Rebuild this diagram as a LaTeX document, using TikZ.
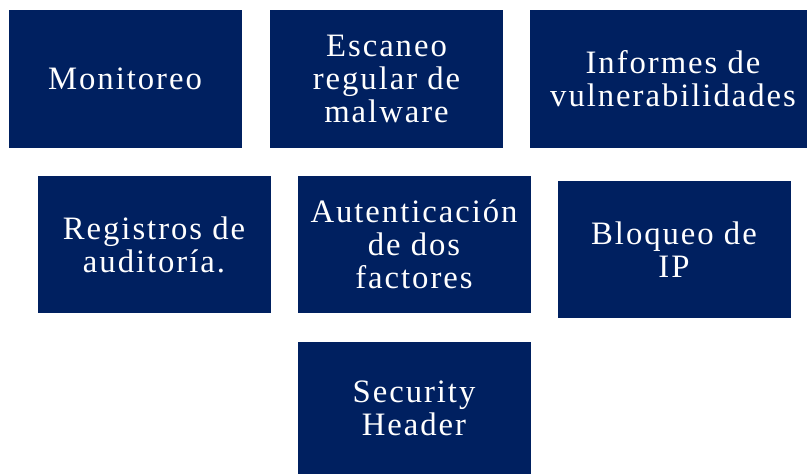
\documentclass[tikz,border=0pt]{standalone}
\usepackage{fontspec}
\setmainfont{Liberation Serif}[LetterSpace=6]
\definecolor{navy}{HTML}{002060}
\begin{document}
\begin{tikzpicture}[x=1bp,y=-1bp,
  box/.style={rectangle, fill=navy, draw=white, line width=0.6bp, inner sep=0pt, outer sep=0pt,
    minimum width=234bp, minimum height=138.5bp, text=white, align=center,
    font=\fontsize{32.7bp}{33bp}\selectfont}]
\useasboundingbox (0,0) rectangle (807,474);
\node[box] (mon) at (125,78.75) {Monitoreo};
\node[box] (esc) at (386.5,78.75) {Escaneo\\regular de\\malware};
\node[box, minimum width=288bp] (inf) at (673,78.75) {Informes de\\vulnerabilidades};
\node[box] (reg) at (154,244.5) {Registros de\\auditoría.};
\node[box] (aut) at (414,244.5) {Autenticación\\de dos\\factores};
\node[box] (blo) at (674,249.5) {Bloqueo de\\IP};
\node[box, minimum height=134bp] (sec) at (414,408) {Security\\Header};
\end{tikzpicture}
\end{document}
